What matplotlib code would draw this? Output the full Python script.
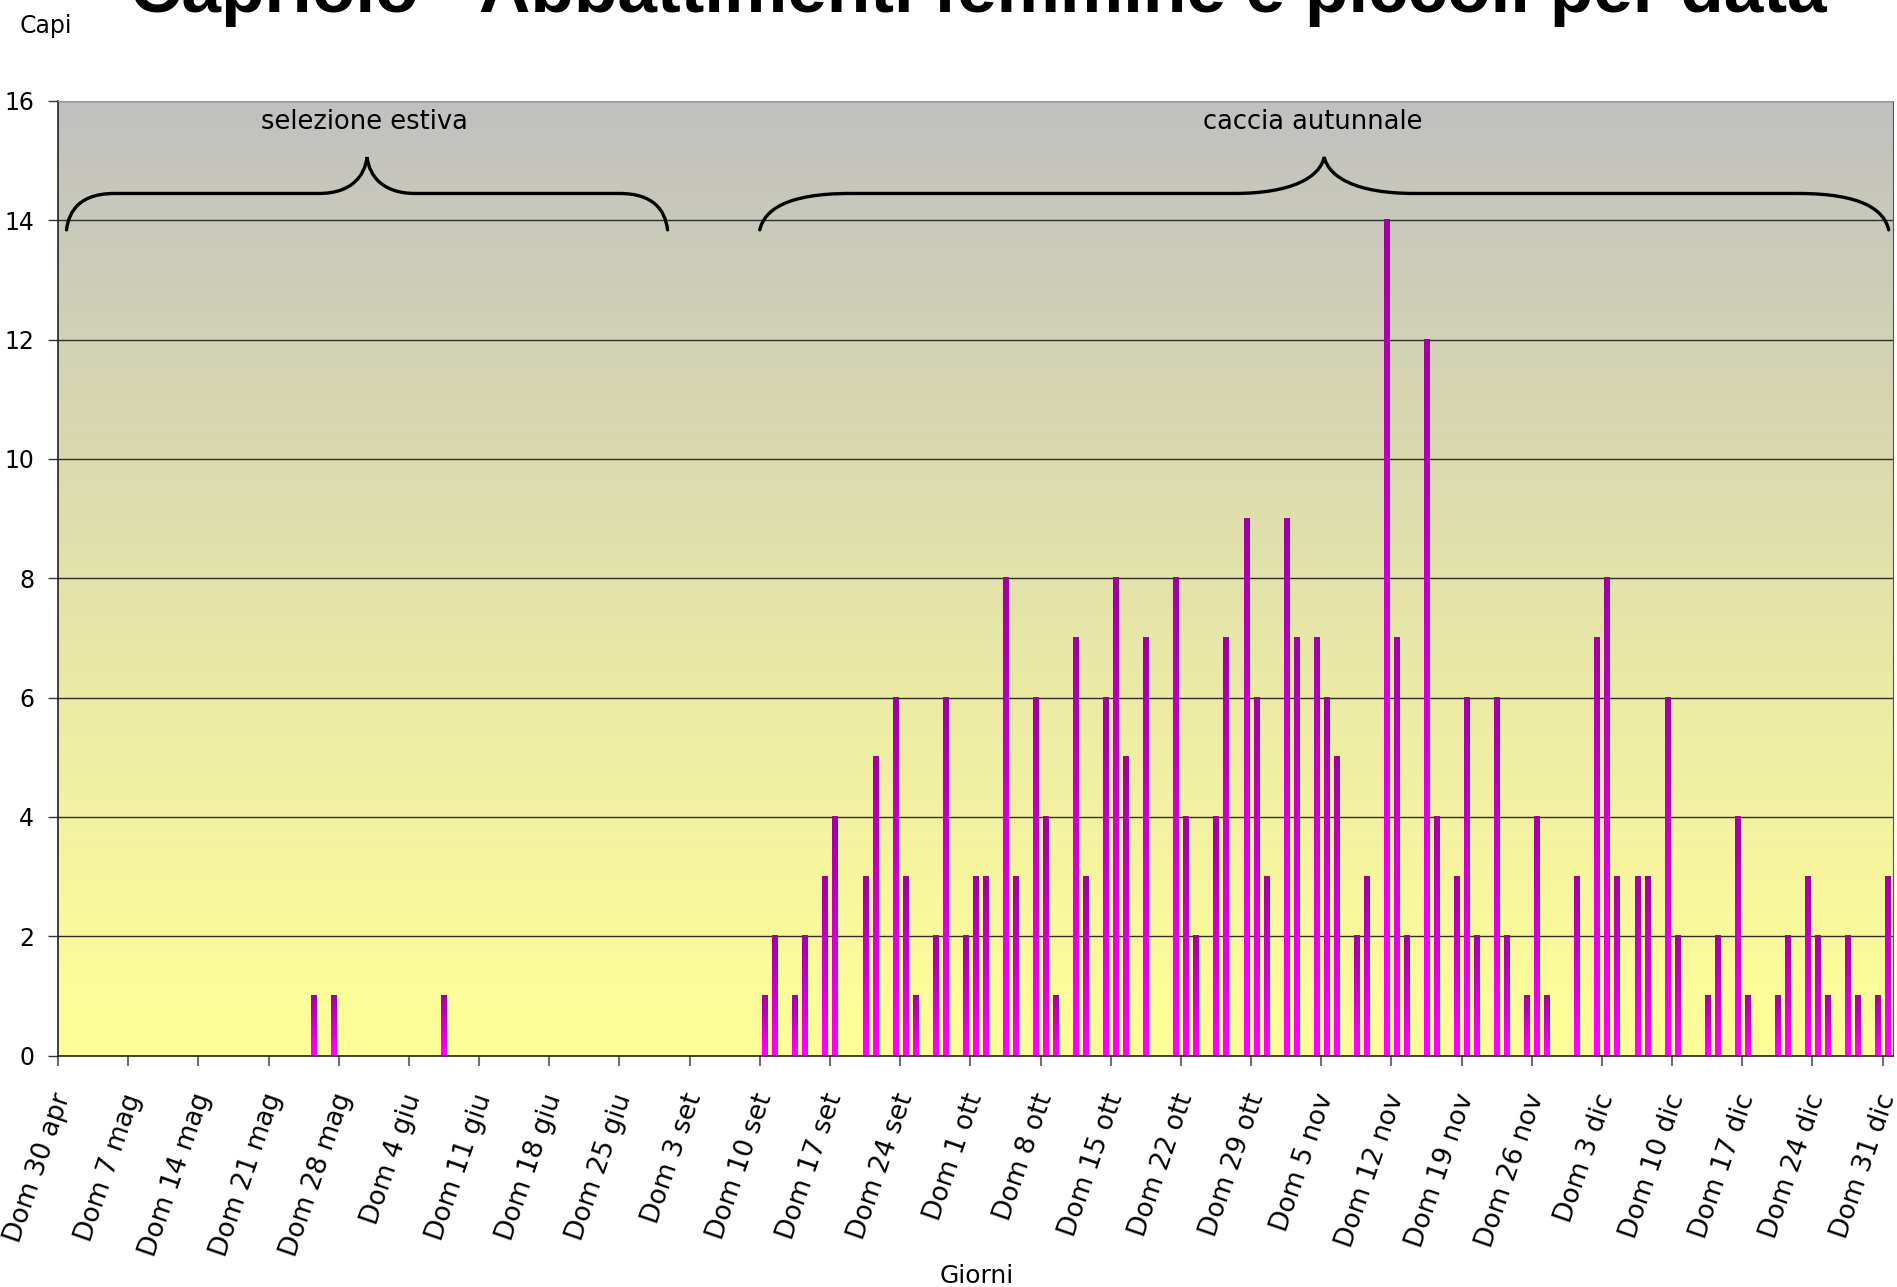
import numpy as np
import matplotlib
matplotlib.use("Agg")
import matplotlib.pyplot as plt
from matplotlib.path import Path
from matplotlib.patches import PathPatch

# ---------------- data ----------------
# category index on the day axis (0 = Dom 30 apr, 7 = Dom 7 mag, ...)
giorno = [25, 27, 38,
          70, 71, 73, 74, 76, 77, 80, 81, 83, 84, 85, 87, 88, 90,
          91, 92, 94, 95, 97, 98, 99, 101, 102, 104, 105, 106, 108, 111, 112,
          113, 115, 116, 118, 119, 120, 122, 123, 125, 126, 127, 129, 130, 132, 133, 134,
          136, 137, 139, 140, 141, 143, 144, 146, 147, 148, 151, 153, 154, 155,
          157, 158, 160, 161, 164, 165, 167, 168, 171, 172, 174, 175, 176, 178, 179, 181, 182]
capi = [1, 1, 1,
        1, 2, 1, 2, 3, 4, 3, 5, 6, 3, 1, 2, 6, 2,
        3, 3, 8, 3, 6, 4, 1, 7, 3, 6, 8, 5, 7, 8, 4,
        2, 4, 7, 9, 6, 3, 9, 7, 7, 6, 5, 2, 3, 14, 7, 2,
        12, 4, 3, 6, 2, 6, 2, 1, 4, 1, 3, 7, 8, 3,
        3, 3, 6, 2, 1, 2, 4, 1, 1, 2, 3, 2, 1, 2, 1, 1, 3]
tick_labels = ["Dom 30 apr", "Dom 7 mag", "Dom 14 mag", "Dom 21 mag", "Dom 28 mag",
               "Dom 4 giu", "Dom 11 giu", "Dom 18 giu", "Dom 25 giu", "Dom 3 set",
               "Dom 10 set", "Dom 17 set", "Dom 24 set", "Dom 1 ott", "Dom 8 ott",
               "Dom 15 ott", "Dom 22 ott", "Dom 29 ott", "Dom 5 nov", "Dom 12 nov",
               "Dom 19 nov", "Dom 26 nov", "Dom 3 dic", "Dom 10 dic", "Dom 17 dic",
               "Dom 24 dic", "Dom 31 dic"]
n_giorni = 183
periodi = ["selezione estiva", "caccia autunnale"]
periodi_inizio = [0.85, 70.0]
periodi_fine = [60.8, 182.6]
periodi_testo_x = [30.6, 125.2]

title = "Capriolo - Abbattimenti femmine e piccoli per data"

# ---------------- figure ----------------
W, H = 1897, 1287
fig = plt.figure(figsize=(W / 100, H / 100), dpi=100)
fig.patch.set_facecolor("white")
ax = fig.add_axes([58 / W, 1 - 1055.5 / H, (1892.7 - 58) / W, (1055.5 - 101) / H])

# background gradient: grey at top -> pale yellow at bottom
top = np.array([192, 192, 192]) / 255
bot = np.array([255, 255, 153]) / 255
t = np.linspace(0, 1, 256) ** 1.15  # 0 bottom -> 1 top
bg = (bot[None, :] * (1 - t[:, None]) + top[None, :] * t[:, None])[:, None, :]
ax.imshow(bg, extent=(0, 1, 0, 1), transform=ax.transAxes, aspect="auto",
          origin="lower", zorder=0, interpolation="bilinear")

# bars with per-bar vertical gradient
xpos = np.array(giorno) + 0.5
bars = ax.bar(xpos, capi, width=0.5, color="none", edgecolor="none", zorder=3)
c_top = np.array([160, 0, 160]) / 255
c_bot = np.array([255, 0, 255]) / 255
tb = np.linspace(0, 1, 64)
bar_grad = (c_bot[None, :] * (1 - tb[:, None]) + c_top[None, :] * tb[:, None])[:, None, :]
for r in bars:
    x0, w, h = r.get_x(), r.get_width(), r.get_height()
    ax.imshow(bar_grad, extent=(x0, x0 + w, 0, h), aspect="auto", origin="lower",
              zorder=3, interpolation="bilinear")

ax.set_xlim(0, n_giorni)
ax.set_ylim(0, 16)
ax.set_aspect("auto")

# grid
ax.set_yticks(np.arange(0, 17, 2))
ax.yaxis.grid(True, color="#2e2e2e", linewidth=1.0)
ax.set_axisbelow(True)
ax.tick_params(axis="y", direction="out", length=7.2, width=1.0, color="#333333",
               pad=10, labelsize=17)

# x ticks: marks at week boundaries, labels near category centre
ax.set_xticks(np.arange(0, n_giorni, 7))
ax.set_xticklabels([])
ax.set_xticks(np.arange(0, n_giorni, 7) + 0.55, minor=True)
ax.set_xticklabels(tick_labels, minor=True)
ax.tick_params(axis="x", which="major", direction="out", length=7.5, width=1.5,
               color="#707070")
ax.tick_params(axis="x", which="minor", length=0, pad=28, labelsize=19)
for lab in ax.get_xticklabels(minor=True):
    lab.set_rotation(71)
    lab.set_rotation_mode("anchor")
    lab.set_ha("right")
    lab.set_va("center")

for s in ["left", "bottom"]:
    ax.spines[s].set_color("#222222")
    ax.spines[s].set_linewidth(1.2)
ax.spines["right"].set_color("#555555")
ax.spines["top"].set_color("#9a9a9a")


# braces
def brace(x0, x1, y_tip=13.84, y_flat=14.45, y_peak=15.06, frac=0.08):
    w = x1 - x0
    xc = (x0 + x1) / 2
    e = frac * w
    c = frac * w
    dy = y_peak - y_flat
    verts = [
        (x0, y_tip),
        (x0 + 0.05 * e, y_tip + 0.55 * (y_flat - y_tip)), (x0 + 0.3 * e, y_flat), (x0 + e, y_flat),
        (xc - c, y_flat),
        (xc - 0.35 * c, y_flat), (xc - 0.05 * c, y_flat + 0.45 * dy), (xc, y_peak),
        (xc + 0.05 * c, y_flat + 0.45 * dy), (xc + 0.35 * c, y_flat), (xc + c, y_flat),
        (x1 - e, y_flat),
        (x1 - 0.3 * e, y_flat), (x1 - 0.05 * e, y_tip + 0.55 * (y_flat - y_tip)), (x1, y_tip),
    ]
    codes = [Path.MOVETO,
             Path.CURVE4, Path.CURVE4, Path.CURVE4,
             Path.LINETO,
             Path.CURVE4, Path.CURVE4, Path.CURVE4,
             Path.CURVE4, Path.CURVE4, Path.CURVE4,
             Path.LINETO,
             Path.CURVE4, Path.CURVE4, Path.CURVE4]
    ax.add_patch(PathPatch(Path(verts, codes), facecolor="none", edgecolor="black",
                           linewidth=2.4, zorder=4, capstyle="round"))


for nome, a, b, xt in zip(periodi, periodi_inizio, periodi_fine, periodi_testo_x):
    brace(a, b)
    ax.text(xt, 15.65, nome, ha="center", va="center", fontsize=18.5, zorder=5)

# texts
fig.text(20 / W, 1 - 33 / H, "Capi", ha="left", va="baseline", fontsize=17)
fig.text(977 / W, 1 - 1283 / H, "Giorni", ha="center", va="baseline", fontsize=18)

tt = fig.text(978 / W, 1 - 12 / H, title, ha="center", va="baseline",
              fontsize=44, fontweight="bold", family="Liberation Sans")
fig.canvas.draw()
bw = tt.get_window_extent().width
tt.set_fontsize(44 * 1697 / bw)

fig.savefig("out.png", dpi=100)
